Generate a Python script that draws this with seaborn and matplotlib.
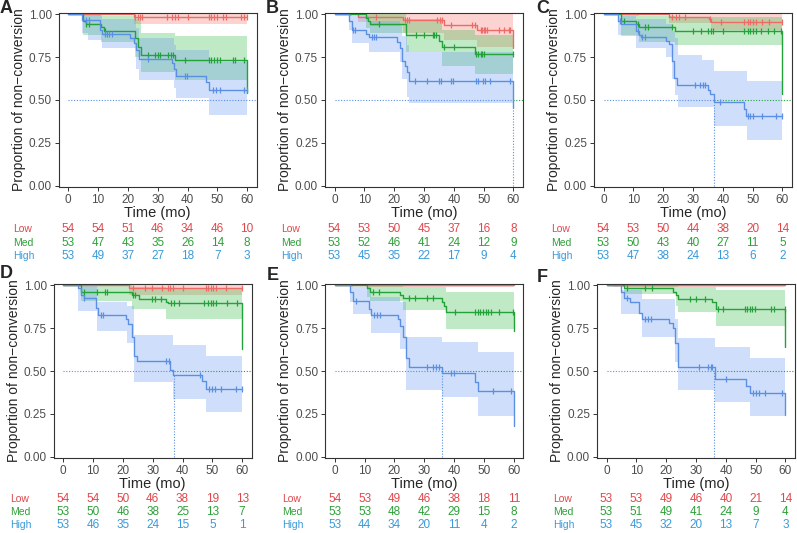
import numpy as np
import matplotlib
matplotlib.use("Agg")
import matplotlib.pyplot as plt
import matplotlib.transforms as mtrans
import seaborn as sns

sns.set_style("white")
plt.rcParams["font.family"] = ["Liberation Sans", "DejaVu Sans"]

GROUPS = ["Low", "Med", "High"]
LINE_COL = {"Low": "#EC6B66", "Med": "#22A238", "High": "#5A8FE3"}
BAND_COL = {"Low": "#F8766D", "Med": "#3CC04C", "High": "#6A9CF5"}
TEXT_COL = {"Low": "#E0474C", "Med": "#2EA03A", "High": "#3A9AD9"}
TIME_TICKS = [0, 10, 20, 30, 40, 50, 60]
Y_TICKS = [0, 0.25, 0.5, 0.75, 1.0]

# ---- panel A ----
A_low = dict(t=[0, 22], s=[1, 0.982], ci_t=[22], lo=[0.944], hi=[1.0],
             cens=[22.4, 23.3, 24.2, 24.9, 33, 34.9, 35.8, 36.7, 40, 47.1, 48,
                   48.9, 49.8, 51.9, 52.8, 58, 58.9, 59.8])
A_med = dict(t=[0, 5, 6, 11, 12, 22.5, 23.5, 24.5, 35.7, 60],
             s=[1, 0.962, 0.943, 0.922, 0.903, 0.86, 0.81, 0.763, 0.73, 0.54],
             ci_t=[5, 11, 22.5, 24.5, 35.7], lo=[0.88, 0.84, 0.75, 0.665, 0.617],
             hi=[1.0, 0.99, 0.97, 0.89, 0.87],
             cens=[6, 7, 12.4, 26.9, 29, 30.2, 30.8, 33.6, 34.4, 35.2, 39.1, 47.1,
                   48, 48.9, 49.8, 50.8, 55.2, 55.8, 59.1])
A_high = dict(t=[0, 4.7, 10.8, 11.3, 20.8, 21.9, 22.8, 23.6, 34.7, 35.6, 36.3, 46.3, 47.2],
              s=[1, 0.963, 0.908, 0.883, 0.86, 0.83, 0.79, 0.737, 0.714, 0.68, 0.64, 0.607, 0.558],
              ci_t=[4.7, 6.5, 11.3, 22.8, 23.6, 35.6, 36.3, 47.2],
              lo=[0.89, 0.85, 0.80, 0.68, 0.617, 0.57, 0.51, 0.41],
              hi=[1.0, 1.0, 0.97, 0.92, 0.86, 0.82, 0.79, 0.72],
              cens=[6, 7, 12.2, 13, 13.8, 14.7, 26.9, 39.1, 39.9, 48.4, 49.7, 50.8, 59.1, 60])
A_risk = {"Low": [54, 54, 51, 46, 34, 46, 10],
          "Med": [53, 47, 43, 35, 26, 14, 8],
          "High": [53, 49, 37, 27, 18, 7, 3]}
A_median = None

# ---- panel B ----
B_low = dict(t=[0, 8, 22.9, 36.8, 47.8, 60], s=[1, 0.983, 0.965, 0.938, 0.905, 0.80],
             ci_t=[8, 12, 22.9, 36.8, 47.8], lo=[0.955, 0.93, 0.89, 0.85, 0.81],
             hi=[1.0, 1.0, 1.0, 1.0, 1.0],
             cens=[14, 23.5, 24.3, 24.9, 34.5, 35.3, 36.2, 39, 46.2, 47, 49, 49.5,
                   50, 50.6, 51.2, 55, 56.7, 58.4, 59])
B_med = dict(t=[0, 10.7, 11.2, 11.8, 23.8, 35.1, 36, 47.1],
             s=[1, 0.977, 0.961, 0.942, 0.88, 0.845, 0.806, 0.769],
             ci_t=[10.7, 11.8, 23.8, 36, 47.1], lo=[0.92, 0.89, 0.78, 0.70, 0.65],
             hi=[1.0, 1.0, 0.97, 0.91, 0.88],
             cens=[15, 27.4, 30.1, 32.9, 33.4, 34, 36.8, 40, 47.3, 48.2, 49, 49.6,
                   50.2, 60])
B_high = dict(t=[0, 5, 5.8, 10.7, 11.6, 20.9, 21.8, 22.7, 23.5, 24.3, 24.9, 60],
              s=[1, 0.957, 0.905, 0.885, 0.866, 0.837, 0.80, 0.724, 0.695, 0.662, 0.612, 0.452],
              ci_t=[5, 6, 11.6, 21.8, 22.7, 24.3, 24.9],
              lo=[0.91, 0.83, 0.78, 0.72, 0.62, 0.52, 0.48],
              hi=[1.0, 0.99, 0.96, 0.93, 0.87, 0.82, 0.78],
              cens=[6.3, 6.9, 12.4, 13.2, 13.8, 27.1, 30.9, 34.9, 35.7, 39, 39.8,
                    47.3, 48.2, 49.7, 50.6, 52.3, 59])
B_risk = {"Low": [54, 53, 50, 45, 37, 16, 8],
          "Med": [53, 52, 46, 41, 24, 12, 9],
          "High": [53, 45, 35, 22, 17, 9, 4]}
B_median = 60

# ---- panel C ----
C_low = dict(t=[0, 22, 35.2, 36.1], s=[1, 0.984, 0.97, 0.955],
             ci_t=[22, 36.1], lo=[0.95, 0.91], hi=[1.0, 1.0],
             cens=[23.1, 24.4, 25.3, 27.2, 35.6, 39.4, 47.2, 48.3, 49.2, 50.2, 51.1,
                   53.3, 55.6, 60])
C_med = dict(t=[0, 6, 11, 12, 24, 60], s=[1, 0.961, 0.94, 0.922, 0.899, 0.534],
             ci_t=[6, 12, 24], lo=[0.87, 0.84, 0.82], hi=[1.0, 0.99, 0.98],
             cens=[7, 11.7, 13.9, 15, 23.1, 30, 32.8, 35, 35.9, 36.7, 40, 47.2, 48.3,
                   49.2, 50.2, 51.1, 52.8, 55, 57.2, 59.4])
C_high = dict(t=[0, 5, 6, 10.8, 12, 12.5, 20.9, 22, 22.8, 23.7, 24.8, 35, 35.6, 36.9, 47, 47.8],
              s=[1, 0.96, 0.942, 0.90, 0.88, 0.864, 0.845, 0.825, 0.724, 0.63, 0.588,
                 0.56, 0.535, 0.489, 0.445, 0.408],
              ci_t=[5, 11, 21, 23, 24, 25, 33, 37, 48],
              lo=[0.88, 0.80, 0.75, 0.62, 0.53, 0.46, 0.46, 0.35, 0.27],
              hi=[0.99, 0.97, 0.94, 0.90, 0.86, 0.76, 0.73, 0.67, 0.61],
              cens=[5.6, 11.7, 12.8, 13.9, 30.8, 32.2, 33.3, 34.1, 38.9, 48.3, 49.2,
                    50.2, 53, 58, 60])
C_risk = {"Low": [54, 53, 50, 44, 38, 20, 14],
          "Med": [53, 50, 43, 40, 27, 11, 5],
          "High": [53, 47, 38, 24, 13, 6, 2]}
C_median = 37

# ---- panel D ----
D_low = dict(t=[0, 22], s=[1, 0.98], ci_t=[22], lo=[0.942], hi=[1.0],
             cens=[23.5, 27.4, 29.6, 33.1, 35.1, 35.9, 36.8, 40.1, 47.8, 48.7, 49.5,
                   50.3, 51.2, 54.5, 59.8])
D_med = dict(t=[0, 5.8, 22.9, 25.5, 34.5, 35.1, 60], s=[1, 0.957, 0.94, 0.918, 0.90, 0.893, 0.626],
             ci_t=[5.8, 22.9, 34.5], lo=[0.91, 0.86, 0.805], hi=[1.0, 0.99, 0.985],
             cens=[6.9, 11.3, 14.1, 14.8, 23.5, 24, 29.8, 30.7, 32.7, 36, 37, 38.8,
                   47.3, 48.7, 49.5, 50.3, 51.2, 55, 58.4])
D_high = dict(t=[0, 5, 5.8, 6.9, 11, 11.8, 21, 21.8, 22.9, 23.8, 24.8, 35.9, 36.8, 46.7, 47.8],
              s=[1, 0.98, 0.94, 0.922, 0.864, 0.825, 0.80, 0.772, 0.70, 0.585, 0.561,
                 0.503, 0.474, 0.44, 0.396],
              ci_t=[5, 11.3, 21.3, 23.8, 36.8, 47.8],
              lo=[0.85, 0.73, 0.66, 0.435, 0.34, 0.26],
              hi=[1.0, 0.90, 0.88, 0.71, 0.65, 0.59],
              cens=[6.9, 12.6, 13.4, 34.6, 35.4, 46, 49, 50, 51, 53, 58, 60])
D_risk = {"Low": [54, 54, 50, 46, 38, 19, 13],
          "Med": [53, 50, 46, 38, 25, 13, 7],
          "High": [53, 46, 35, 24, 15, 5, 1]}
D_median = 37

# ---- panel E ----
E_low = dict(t=[0], s=[1], ci_t=[11], lo=[0.987], hi=[1.0], cens=[])
E_med = dict(t=[0, 10.8, 11.7, 21.9, 22.8, 35.8, 36.5, 37.4, 60],
             s=[1, 0.98, 0.961, 0.94, 0.922, 0.90, 0.88, 0.845, 0.732],
             ci_t=[10.8, 11.7, 22.8, 37.4], lo=[0.93, 0.91, 0.854, 0.744],
             hi=[1.0, 1.0, 0.99, 0.96],
             cens=[12.8, 14.7, 24.9, 26.9, 30.8, 33, 40.2, 46.9, 47.9, 48.8, 49.7,
                   50.6, 51.5, 52.4, 55.2, 59.7])
E_high = dict(t=[0, 5, 6, 11.3, 12, 21.1, 21.9, 22.8, 23.9, 24.9, 36, 46.9, 48, 60],
              s=[1, 0.96, 0.907, 0.86, 0.825, 0.80, 0.76, 0.70, 0.573, 0.524, 0.49,
                 0.437, 0.384, 0.18],
              ci_t=[5, 6, 12, 21.9, 23.9, 36, 48],
              lo=[0.90, 0.83, 0.72, 0.63, 0.39, 0.35, 0.24],
              hi=[1.0, 0.99, 0.93, 0.90, 0.70, 0.67, 0.61],
              cens=[7, 13, 14, 15, 31, 33, 34, 35, 39, 40, 53, 59])
E_risk = {"Low": [54, 53, 49, 46, 38, 18, 11],
          "Med": [53, 53, 48, 42, 29, 15, 8],
          "High": [53, 44, 34, 20, 11, 4, 2]}
E_median = 36

# ---- panel F ----
F_low = dict(t=[0], s=[1], ci_t=[2], lo=[0.987], hi=[1.0], cens=[])
F_med = dict(t=[0, 5.8, 22.2, 23.3, 24.1, 35.2, 36.7, 60],
             s=[1, 0.98, 0.96, 0.942, 0.919, 0.90, 0.861, 0.638],
             ci_t=[5.8, 23.3, 24.1, 36.7], lo=[0.95, 0.88, 0.845, 0.76],
             hi=[1.0, 0.995, 0.99, 0.97],
             cens=[6.9, 13, 15.2, 28, 30, 33, 37.5, 39.1, 46.3, 47.2, 48, 48.9, 49.7,
                   55.2, 56, 60])
F_high = dict(t=[0, 4.9, 5.8, 7.8, 10.8, 12, 21.1, 22.2, 23.1, 23.9, 36.3, 46.9, 48, 60],
              s=[1, 0.96, 0.923, 0.90, 0.84, 0.80, 0.78, 0.749, 0.665, 0.526, 0.453,
                 0.41, 0.371, 0.242],
              ci_t=[4.9, 11.9, 23.1, 23.9, 36.3, 48],
              lo=[0.83, 0.70, 0.55, 0.39, 0.32, 0.24],
              hi=[0.97, 0.917, 0.80, 0.69, 0.64, 0.575],
              cens=[7, 13, 14, 15, 31, 34, 35, 35.5, 40, 49, 50, 51, 53, 59])
F_risk = {"Low": [53, 53, 49, 46, 40, 21, 14],
          "Med": [53, 51, 49, 41, 24, 9, 4],
          "High": [53, 45, 32, 20, 13, 7, 3]}
F_median = 36

W, H = 797, 533
fig = plt.figure(figsize=(W / 100, H / 100), dpi=100)

# letter, curves, risk, median, axes left/top (px), letter x/y (px), table label x (px), row
panels = [
    ("A", [A_low, A_med, A_high], A_risk, A_median, 58.7, 13, 0, 0, 13, 0),
    ("B", [B_low, B_med, B_high], B_risk, B_median, 325, 13, 266, 0, 281, 0),
    ("C", [C_low, C_med, C_high], C_risk, C_median, 594, 13, 536, 0, 551, 0),
    ("D", [D_low, D_med, D_high], D_risk, D_median, 53.7, 284, 0, 265, 10, 1),
    ("E", [E_low, E_med, E_high], E_risk, E_median, 325.3, 284, 267, 267, 282, 1),
    ("F", [F_low, F_med, F_high], F_risk, F_median, 597, 284, 537, 269, 553, 1),
]
AX_W, AX_H = 198, 174
TABLE_Y = [[229, 243, 256], [499, 512, 525]]


def step_value(c, x):
    i = np.searchsorted(c["t"], x, side="right") - 1
    return c["s"][max(i, 0)]


for letter, curves, risk, med, left, top, lx, ly, tx, row in panels:
    ax = fig.add_axes([left / W, 1 - (top + AX_H) / H, AX_W / W, AX_H / H])

    # confidence bands
    for g, c in zip(GROUPS, curves):
        bx = list(c["ci_t"]) + [60]
        ax.fill_between(bx, list(c["lo"]) + [c["lo"][-1]], list(c["hi"]) + [c["hi"][-1]],
                        step="post", color=BAND_COL[g], alpha=0.32, lw=0)

    # median reference lines
    x_end = 63.2
    dots = (0, (1, 1.5))
    if med is None:
        ax.plot([0, x_end], [0.5, 0.5], ls=dots, color=LINE_COL["High"], lw=0.8)
    else:
        ax.plot([0, med], [0.5, 0.5], ls=dots, color=LINE_COL["High"], lw=0.8)
        ax.plot([med, x_end], [0.5, 0.5], ls=dots, color=LINE_COL["Med"], lw=0.8)
        ax.plot([med, med], [0, min(0.5, step_value(curves[2], med))], ls=dots,
                color=LINE_COL["High"], lw=0.8)

    # survival curves + censor marks
    for g, c in zip(GROUPS, curves):
        xs, ys = list(c["t"]), list(c["s"])
        if xs[-1] < 60:
            xs.append(60)
            ys.append(ys[-1])
        sns.lineplot(x=xs, y=ys, drawstyle="steps-post", estimator=None, sort=False,
                     color=LINE_COL[g], lw=1.0, ax=ax)
        if c["cens"]:
            # censor at 60 sits on the level before a final drop
            cy = [step_value(c, x) if x < 60 or c["t"][-1] < 60 else c["s"][-2]
                  for x in c["cens"]]
            ax.plot(c["cens"], cy, ls="none", marker="|", ms=4, mew=0.9, color=LINE_COL[g])

    ax.set_xlim(-3.2, 63.2)
    ax.set_ylim(-0.006, 1.006)
    ax.set_xticks(TIME_TICKS)
    ax.set_yticks(Y_TICKS)
    ax.set_yticklabels([f"{v:.2f}" for v in Y_TICKS])
    ax.tick_params(direction="out", length=3, width=0.7, color="#333333",
                   labelsize=8.5, labelcolor="#4D4D4D", pad=2, left=True, bottom=True)
    for sp in ax.spines.values():
        sp.set_visible(True)
        sp.set_color("#333333")
        sp.set_linewidth(0.8)
    ax.set_xlabel("Time (mo)", fontsize=10.5, labelpad=0)
    ax.set_ylabel("Proportion of non\u2212conversion", fontsize=10, labelpad=2)

    fig.text(lx / W, 1 - ly / H, letter, fontsize=13, fontweight="bold",
             va="top", ha="left")

    # number-at-risk table
    trans = mtrans.blended_transform_factory(ax.transData, fig.transFigure)
    for g, ypx in zip(GROUPS, TABLE_Y[row]):
        yf = 1 - ypx / H
        fig.text(tx / W, yf, g, color=TEXT_COL[g], fontsize=7.5, va="center", ha="left")
        for t, n in zip(TIME_TICKS, risk[g]):
            ax.text(t, yf, str(n), transform=trans, color=TEXT_COL[g], fontsize=8.5,
                    va="center", ha="center", clip_on=False)

fig.savefig("out.png", dpi=100)
